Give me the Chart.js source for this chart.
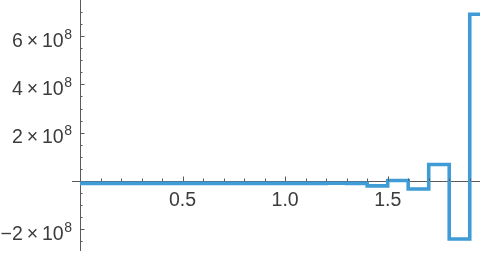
<!DOCTYPE html>
<html><head><meta charset="utf-8">
<script src="https://cdn.jsdelivr.net/npm/chart.js@4/dist/chart.umd.min.js"></script>
<style>html,body{margin:0;padding:0;background:#fff}canvas{display:block}</style>
</head><body>
<canvas id="c" width="480" height="254"></canvas>
<script>
// step boundaries (x) and the value held on each interval
const stepStarts = [0.0,0.1,0.2,0.3,0.4,0.5,0.6,0.7,0.8,0.9,1.0,1.1,1.2,1.3,1.4,1.5,1.6,1.7,1.8,1.9,2.0];
const stepValues = [-1e7,-1e7,-1e7,-1e7,-1e7,-1e7,-1e7,-1e7,-1e7,-1e7,-1e7,-1e7,-9e6,-1e7,-2e7,2e6,-3.3e7,6.8e7,-2.4e8,6.9e8];
const xTickLabels = [0.5, 1.0, 1.5];
const xMinorTicks = [0.1,0.2,0.3,0.4,0.6,0.7,0.8,0.9,1.1,1.2,1.3,1.4,1.6,1.7,1.8,1.9];
const yTickMantissas = [-2, 2, 4, 6];
const yTickExponent = 8;
const yMinorTicks = [-2.5e8,-1.5e8,-1e8,-0.5e8,0.5e8,1e8,1.5e8,2.5e8,3e8,3.5e8,4.5e8,5e8,5.5e8,6.5e8,7e8];

const points = stepStarts.map((x, i) => ({x: x, y: stepValues[Math.min(i, stepValues.length - 1)]}));

const TEXT = '#3c3c3c';
const AXIS = '#5a5a5a';
const FONT = '"Liberation Sans", Arial, sans-serif';

const axisDecor = {
  id: 'axisDecor',
  afterDraw(chart) {
    const ctx = chart.ctx;
    const xs = chart.scales.x, ys = chart.scales.y;
    const y0 = ys.getPixelForValue(0);
    const x0 = xs.getPixelForValue(0);
    ctx.save();
    ctx.strokeStyle = AXIS;
    ctx.lineWidth = 1;
    const drawXT = (v, len) => {
      const px = Math.round(xs.getPixelForValue(v)) + 0.5;
      ctx.beginPath(); ctx.moveTo(px, y0); ctx.lineTo(px, y0 - len); ctx.stroke();
    };
    xMinorTicks.forEach(v => drawXT(v, 2.5));
    xTickLabels.forEach(v => drawXT(v, 4.5));
    const drawYT = (v, len) => {
      const py = Math.round(ys.getPixelForValue(v)) + 0.5;
      ctx.beginPath(); ctx.moveTo(x0, py); ctx.lineTo(x0 + len, py); ctx.stroke();
    };
    yMinorTicks.forEach(v => drawYT(v, 2.5));
    yTickMantissas.forEach(m => drawYT(m * Math.pow(10, yTickExponent), 4.5));
    ctx.fillStyle = TEXT;
    ctx.font = '19.5px ' + FONT;
    ctx.textAlign = 'center';
    ctx.textBaseline = 'alphabetic';
    xTickLabels.forEach(v => {
      ctx.fillText(v.toFixed(1), xs.getPixelForValue(v), y0 + 25);
    });
    const right = x0 - 8;
    yTickMantissas.forEach(m => {
      const py = ys.getPixelForValue(m * Math.pow(10, yTickExponent));
      ctx.textAlign = 'right';
      ctx.font = '14px ' + FONT;
      const sup = String(yTickExponent);
      const supW = ctx.measureText(sup).width;
      ctx.fillText(sup, right, py + 2.5);
      ctx.font = '19.5px ' + FONT;
      const mant = (m < 0 ? '\u2212' + Math.abs(m) : String(m)) + '\u2009\u00d7\u200910';
      ctx.fillText(mant, right - supW - 0.5, py + 10.5);
    });
    ctx.restore();
  }
};

new Chart(document.getElementById('c'), {
  type: 'line',
  data: {
    datasets: [{
      data: points,
      stepped: true,
      borderColor: '#3f9cd5',
      borderWidth: 3.6,
      pointRadius: 0,
      fill: false,
      borderCapStyle: 'butt',
      borderJoinStyle: 'miter',
      tension: 0
    }]
  },
  options: {
    responsive: false,
    animation: false,
    devicePixelRatio: 1,
    layout: {padding: {left: 72, right: 0, top: 0, bottom: 4}},
    plugins: {legend: {display: false}, tooltip: {enabled: false}},
    scales: {
      x: {
        type: 'linear',
        min: -0.039,
        max: 1.95,
        position: {y: 0},
        grid: {display: false},
        border: {display: true, color: AXIS, width: 1},
        ticks: {display: false}
      },
      y: {
        type: 'linear',
        min: -2.855e8,
        max: 7.49e8,
        position: {x: 0},
        grid: {display: false},
        border: {display: true, color: AXIS, width: 1},
        ticks: {display: false}
      }
    }
  },
  plugins: [axisDecor]
});
</script>
</body></html>
